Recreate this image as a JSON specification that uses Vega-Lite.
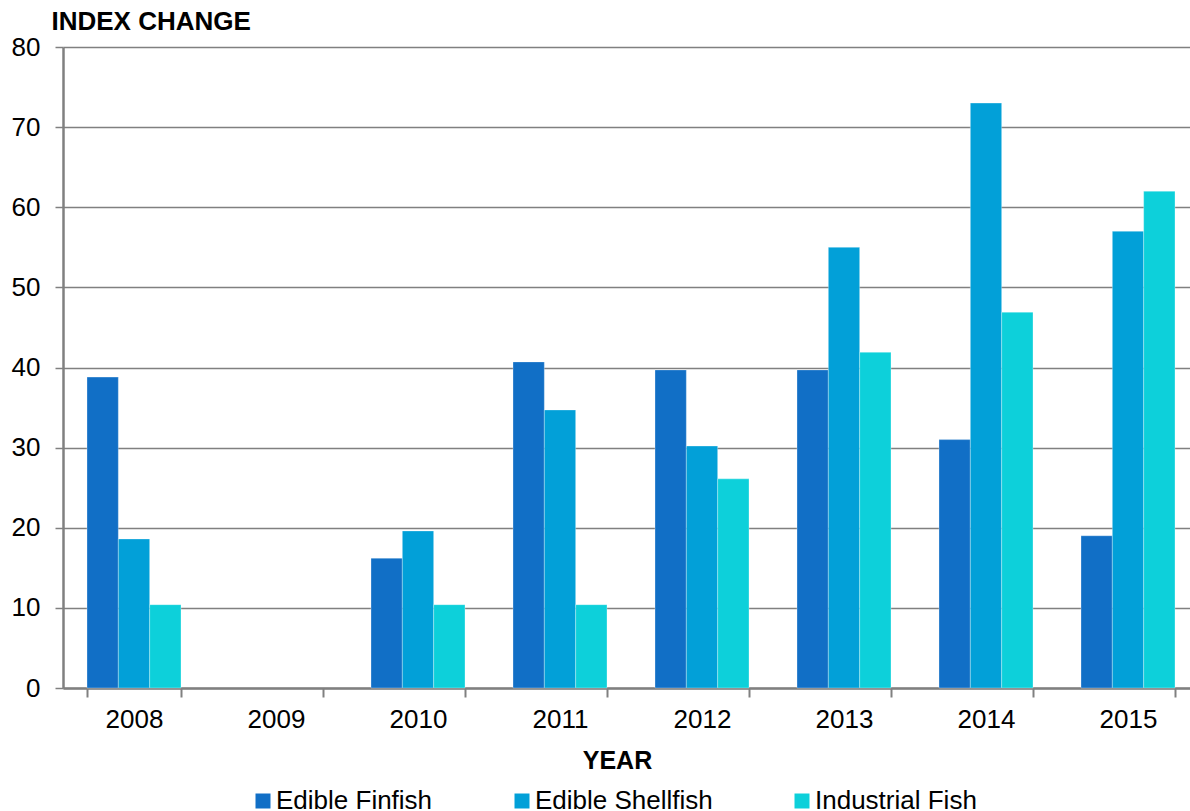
{
  "$schema": "https://vega.github.io/schema/vega-lite/v6.json",
  "width": 1136,
  "height": 641,
  "autosize": {"type": "none"},
  "padding": {"left": 63, "top": 47, "right": 0, "bottom": 123},
  "background": "white",
  "config": {"font": "Liberation Sans", "view": {"stroke": null}},
  "data": {
    "values": [
      {"year": "2008", "category": "Edible Finfish", "value": 38.8},
      {"year": "2008", "category": "Edible Shellfish", "value": 18.6},
      {"year": "2008", "category": "Industrial Fish", "value": 10.4},
      {"year": "2010", "category": "Edible Finfish", "value": 16.2},
      {"year": "2010", "category": "Edible Shellfish", "value": 19.6},
      {"year": "2010", "category": "Industrial Fish", "value": 10.4},
      {"year": "2011", "category": "Edible Finfish", "value": 40.7},
      {"year": "2011", "category": "Edible Shellfish", "value": 34.7},
      {"year": "2011", "category": "Industrial Fish", "value": 10.4},
      {"year": "2012", "category": "Edible Finfish", "value": 39.7},
      {"year": "2012", "category": "Edible Shellfish", "value": 30.2},
      {"year": "2012", "category": "Industrial Fish", "value": 26.1},
      {"year": "2013", "category": "Edible Finfish", "value": 39.7},
      {"year": "2013", "category": "Edible Shellfish", "value": 55.0},
      {"year": "2013", "category": "Industrial Fish", "value": 41.9},
      {"year": "2014", "category": "Edible Finfish", "value": 31.0},
      {"year": "2014", "category": "Edible Shellfish", "value": 73.0},
      {"year": "2014", "category": "Industrial Fish", "value": 46.9},
      {"year": "2015", "category": "Edible Finfish", "value": 19.0},
      {"year": "2015", "category": "Edible Shellfish", "value": 57.0},
      {"year": "2015", "category": "Industrial Fish", "value": 62.0}
    ]
  },
  "mark": {"type": "bar", "stroke": "white", "strokeWidth": 0.6, "strokeOpacity": 0.5},
  "encoding": {
    "x": {
      "field": "year",
      "type": "ordinal",
      "scale": {"domain": ["2008", "2009", "2010", "2011", "2012", "2013", "2014", "2015"], "paddingInner": 0.338, "paddingOuter": 0.169},
      "axis": {
        "title": "YEAR",
        "titleFontSize": 25,
        "titleFontWeight": "bold",
        "titleColor": "black",
        "titleX": 554,
        "titleY": 72,
        "titleAlign": "center",
        "titleBaseline": "middle",
        "labelFontSize": 26,
        "labelColor": "black",
        "labelPadding": 9,
        "labelAngle": 0,
        "tickBand": "extent",
        "tickSize": 9,
        "tickColor": "#808080",
        "tickWidth": 2,
        "domainColor": "#808080",
        "domainWidth": 2.5,
        "grid": false
      }
    },
    "xOffset": {
      "field": "category",
      "sort": ["Edible Finfish", "Edible Shellfish", "Industrial Fish"],
      "scale": {"paddingInner": 0, "paddingOuter": 0}
    },
    "y": {
      "field": "value",
      "type": "quantitative",
      "scale": {"domain": [0, 80], "nice": false},
      "axis": {
        "values": [0, 10, 20, 30, 40, 50, 60, 70, 80],
        "title": "INDEX CHANGE",
        "titleAngle": 0,
        "titleFontSize": 26,
        "titleFontWeight": "bold",
        "titleColor": "black",
        "titleAlign": "left",
        "titleBaseline": "middle",
        "titleX": -12,
        "titleY": -26,
        "labelFontSize": 26,
        "labelColor": "black",
        "labelPadding": 15,
        "tickSize": 8,
        "tickColor": "#808080",
        "tickWidth": 1.5,
        "domainColor": "#808080",
        "domainWidth": 2.5,
        "grid": true,
        "gridColor": "#808080",
        "gridWidth": 1.3
      }
    },
    "color": {
      "field": "category",
      "type": "nominal",
      "scale": {
        "domain": ["Edible Finfish", "Edible Shellfish", "Industrial Fish"],
        "range": ["#116FC6", "#02A0D8", "#0DD0DA"]
      },
      "legend": {
        "title": null,
        "orient": "none",
        "direction": "horizontal",
        "legendX": 187,
        "legendY": 741,
        "symbolType": "square",
        "symbolSize": 225,
        "symbolStrokeWidth": 0,
        "labelFontSize": 26,
        "labelColor": "black",
        "labelOffset": 0,
        "columnPadding": 76,
        "labelLimit": 400
      }
    }
  }
}
